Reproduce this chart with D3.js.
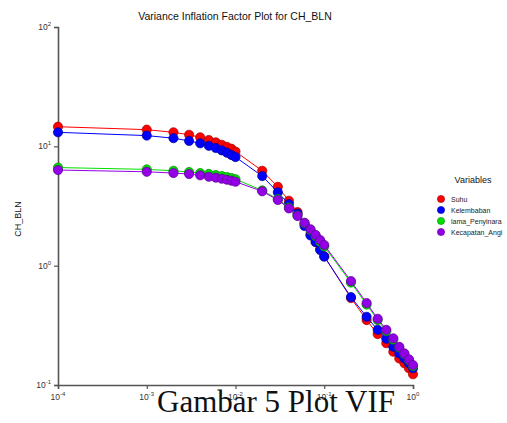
<!DOCTYPE html>
<html>
<head>
<meta charset="utf-8">
<script src="https://cdn.jsdelivr.net/npm/d3@7"></script>
<style>
  body { margin: 0; background: #fff; }
  text { font-family: "Liberation Sans", Arial, sans-serif; }
  text.caption { font-family: "Liberation Serif", "Times New Roman", serif; }
</style>
</head>
<body>
<div class="chart"></div>
<script>
// ridge parameter k
const kValues = [0.0001, 0.001, 0.002, 0.003, 0.004, 0.005, 0.006, 0.007, 0.008, 0.009, 0.01,
  0.02, 0.03, 0.04, 0.05, 0.06, 0.07, 0.08, 0.09, 0.1,
  0.2, 0.3, 0.4, 0.5, 0.6, 0.7, 0.8, 0.9, 1.0];

const suhu = [14.6, 13.8, 13.1, 12.5, 11.9, 11.3, 10.8, 10.3, 9.9, 9.55, 9.04,
  6.24, 4.58, 3.50, 2.81, 2.23, 1.84, 1.58, 1.38, 1.20,
  0.535, 0.35, 0.267, 0.224, 0.19, 0.167, 0.152, 0.138, 0.123];
const kelembaban = [13.1, 12.3, 11.7, 11.1, 10.6, 10.1, 9.68, 9.25, 8.84, 8.45, 8.13,
  5.63, 4.12, 3.28, 2.73, 2.15, 1.79, 1.58, 1.35, 1.19,
  0.545, 0.373, 0.29, 0.244, 0.209, 0.184, 0.167, 0.152, 0.138];
const lamaPenyinaran = [6.64, 6.41, 6.24, 6.09, 5.97, 5.87, 5.74, 5.63, 5.52, 5.41, 5.3,
  4.27, 3.61, 3.07, 2.63, 2.27, 1.99, 1.77, 1.59, 1.45,
  0.722, 0.472, 0.35, 0.283, 0.24, 0.206, 0.182, 0.162, 0.144];
const kecepatanAngin = [6.33, 6.12, 5.97, 5.86, 5.72, 5.56, 5.46, 5.35, 5.25, 5.15, 5.05,
  4.20, 3.55, 3.02, 2.61, 2.29, 2.02, 1.81, 1.64, 1.49,
  0.743, 0.486, 0.359, 0.29, 0.246, 0.209, 0.184, 0.164, 0.147];

const seriesNames = ["Suhu", "Kelembaban", "lama_Penyinara", "Kecapatan_Angi"];
const seriesValues = [suhu, kelembaban, lamaPenyinaran, kecepatanAngin];
const fills = ["#ff0000", "#0000ff", "#00e000", "#9400e6"];
const strokes = ["#a00000", "#000090", "#008800", "#5a0090"];

const xExp = [-4, -3, -2, -1, 0];
const yExp = [-1, 0, 1, 2];

const W = 507, H = 423;
const plotLeft = 58, plotRight = 413, plotTop = 27, plotBottom = 385;

const svg = d3.select(".chart").append("svg")
  .attr("width", W).attr("height", H);

const x = d3.scaleLog().domain([1e-4, 1]).range([plotLeft, plotRight]);
const y = d3.scaleLog().domain([0.1, 100]).range([plotBottom, plotTop]);

svg.append("text")
  .attr("x", 235).attr("y", 20)
  .attr("text-anchor", "middle")
  .attr("font-size", 10.5)
  .attr("fill", "#111")
  .text("Variance Inflation Factor Plot for CH_BLN");

svg.append("text")
  .attr("transform", "translate(21,219) rotate(-90)")
  .attr("text-anchor", "middle")
  .attr("font-size", 9)
  .attr("fill", "#111")
  .text("CH_BLN");

const axisColor = "#555";

// axes
const yAxis = svg.append("g").attr("transform", "translate(" + plotLeft + ",0)")
  .call(d3.axisLeft(y).tickValues(yExp.map(e => Math.pow(10, e))).tickSize(4).tickFormat(""));
const xAxis = svg.append("g").attr("transform", "translate(0," + plotBottom + ")")
  .call(d3.axisBottom(x).tickValues(xExp.map(e => Math.pow(10, e))).tickSize(4).tickFormat(""));
[xAxis, yAxis].forEach(a => {
  a.select(".domain").attr("stroke", axisColor).attr("stroke-width", 1.6);
  a.selectAll(".tick line").attr("stroke", axisColor).attr("stroke-width", 1.2);
});

function powLabel(g, e) {
  g.append("tspan").text("10");
  g.append("tspan").attr("font-size", 6).attr("dy", -4).text(e < 0 ? "-" + (-e) : e);
}

yExp.forEach(e => {
  const t = svg.append("text")
    .attr("x", 51).attr("y", y(Math.pow(10, e)) + 3)
    .attr("text-anchor", "end")
    .attr("font-size", 8.5).attr("fill", "#333");
  powLabel(t, e);
});
xExp.forEach(e => {
  const t = svg.append("text")
    .attr("x", x(Math.pow(10, e))).attr("y", 400)
    .attr("text-anchor", "middle")
    .attr("font-size", 8.5).attr("fill", "#333");
  powLabel(t, e);
});

// series
const line = d3.line().x(d => x(d[0])).y(d => y(d[1]));
seriesValues.forEach((vals, i) => {
  const pts = kValues.map((k, j) => [k, vals[j]]);
  svg.append("path")
    .datum(pts)
    .attr("d", line)
    .attr("fill", "none")
    .attr("stroke", fills[i])
    .attr("stroke-width", 1);
  svg.selectAll(".pt" + i)
    .data(pts)
    .join("circle")
    .attr("class", "pt" + i)
    .attr("cx", d => x(d[0]))
    .attr("cy", d => y(d[1]))
    .attr("r", 4.6)
    .attr("fill", fills[i])
    .attr("stroke", strokes[i])
    .attr("stroke-width", 0.7);
});

// legend
svg.append("text")
  .attr("x", 473).attr("y", 183)
  .attr("text-anchor", "middle")
  .attr("font-size", 9).attr("fill", "#111")
  .text("Variables");
seriesNames.forEach((n, i) => {
  const ly = 199 + i * 11;
  svg.append("circle").attr("cx", 441).attr("cy", ly).attr("r", 3.6)
    .attr("fill", fills[i]).attr("stroke", strokes[i]).attr("stroke-width", 0.6);
  svg.append("text").attr("x", 451).attr("y", ly + 2.5)
    .attr("font-size", 7).attr("fill", "#222").text(n);
});

// caption
svg.append("text")
  .attr("class", "caption")
  .attr("x", 276).attr("y", 412)
  .attr("text-anchor", "middle")
  .attr("font-size", 31)
  .attr("fill", "#111")
  .text("Gambar 5 Plot VIF");
</script>
</body>
</html>
